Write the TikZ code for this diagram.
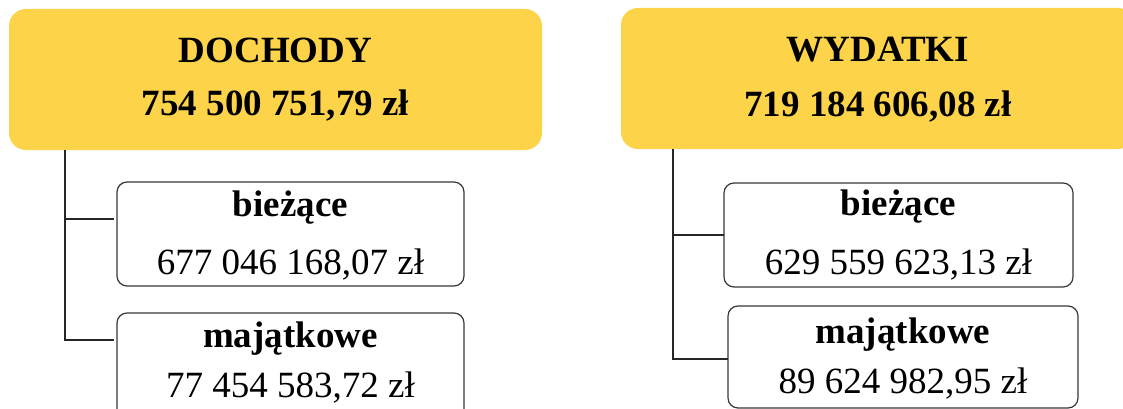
\documentclass[tikz,border=0pt]{standalone}
\usepackage{fontspec}
\setmainfont{Liberation Serif}
\definecolor{ybg}{RGB}{253,211,73}
\definecolor{bord}{RGB}{55,55,55}
\begin{document}
\begin{tikzpicture}[x=1pt,y=-1pt,
  ybox/.style={fill=ybg,draw=none,rounded corners=17pt,inner sep=0pt,outer sep=0pt},
  wbox/.style={fill=white,draw=bord,line width=1.2pt,rounded corners=10pt,inner sep=0pt,outer sep=0pt},
  conn/.style={draw=black!85,line width=1.2pt},
  txt/.style={anchor=base,inner sep=0pt,font=\fontsize{37}{44}\selectfont},
  btxt/.style={txt,font=\fontsize{37}{44}\selectfont\bfseries}]
\useasboundingbox (0,0) rectangle (1123,409);
% top boxes
\node[ybox,minimum width=533pt,minimum height=141pt] (doch) at (275.5,79.5) {};
\node[ybox,minimum width=514pt,minimum height=141pt] (wyd) at (878,78.5) {};
% child boxes
\node[wbox,minimum width=347pt,minimum height=104pt] (db) at (290.5,234) {};
\node[wbox,minimum width=347pt,minimum height=110pt] (dm) at (290.5,368) {};
\node[wbox,minimum width=349pt,minimum height=104pt] (wb) at (898.5,235) {};
\node[wbox,minimum width=350pt,minimum height=102pt] (wm) at (903,357) {};
% texts
\node[btxt] (t1) at (275.5,63) {DOCHODY};
\node[btxt] (t2) at (275.5,116) {754 500 751,79 zł};
\node[btxt] (t3) at (878,62) {WYDATKI};
\node[btxt] (t4) at (878,117) {719 184 606,08 zł};
\node[btxt] (t5) at (290.5,216) {bieżące};
\node[txt] (t6) at (290.5,274) {677 046 168,07 zł};
\node[btxt] (t7) at (290.5,347) {majątkowe};
\node[txt] (t8) at (290.5,397) {77 454 583,72 zł};
\node[btxt] (t9) at (898.5,215) {bieżące};
\node[txt] (t10) at (898.5,274) {629 559 623,13 zł};
\node[btxt] (t11) at (903,343) {majątkowe};
\node[txt] (t12) at (903,393) {89 624 982,95 zł};
% connectors
\draw[conn,shorten >=3pt] ([xshift=56pt]doch.south west) |- ([yshift=15pt]db.west);
\draw[conn,shorten >=3pt] ([xshift=56pt]doch.south west) |- ([yshift=-27pt]dm.north west);
\draw[conn] ([xshift=52pt]wyd.south west) |- (wb.west);
\draw[conn] ([xshift=52pt]wyd.south west) |- ([yshift=-2pt]wm.west);
\end{tikzpicture}
\end{document}
